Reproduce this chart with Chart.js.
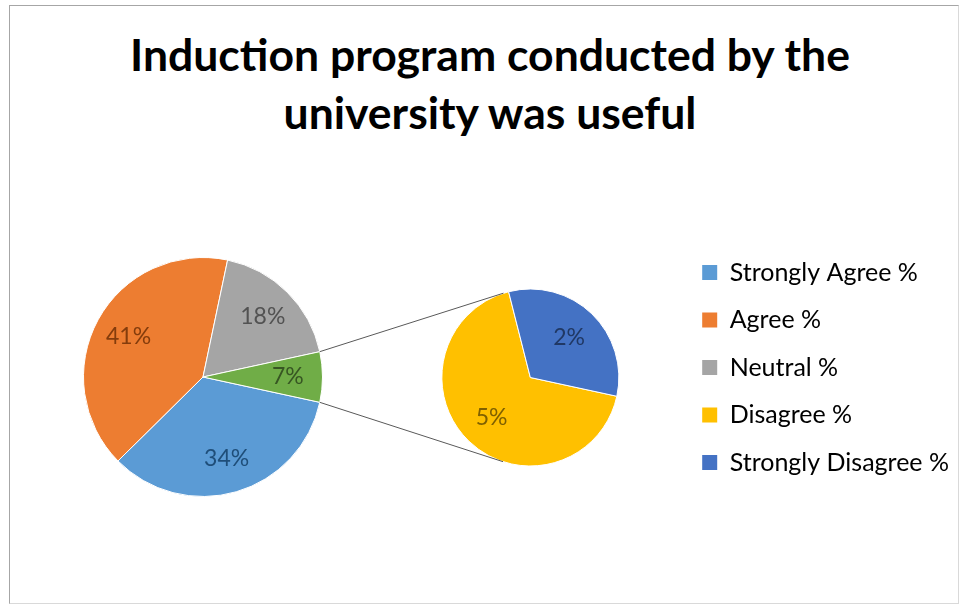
<!DOCTYPE html>
<html>
<head>
<meta charset="utf-8">
<script src="https://cdn.jsdelivr.net/npm/chart.js@4"></script>
<style>
  body { margin: 0; background: #fff; }
  #wrap { position: relative; width: 959px; height: 605px; overflow: hidden; }
  #frame { position: absolute; left: 9px; top: 5px; width: 948px; height: 597px;
           border: 1px solid #d9d9d9; border-top-color: #a6a6a6; border-left-color: #a6a6a6; }
  #title { position: absolute; left: 21px; width: 938px; top: 25px; text-align: center;
           font: bold 44.5px/58px Lato, sans-serif; color: #000; }
  canvas { position: absolute; left: 0; top: 0; }
</style>
</head>
<body>
<div id="wrap">
  <div id="frame"></div>
  <div id="title">Induction program conducted by the<br>university was useful</div>
  <canvas id="mainPie" width="959" height="605"></canvas>
  <canvas id="subPie" width="959" height="605"></canvas>
</div>
<script>
  const categories = ['Strongly Agree %', 'Agree %', 'Neutral %', 'Disagree %', 'Strongly Disagree %']
  const values = [34.2, 40.7, 18.3, 4.6, 2.2]
  const mainCount = 3   // the rest goes into the second pie

  const colors = ['#5B9BD5', '#ED7D31', '#A5A5A5', '#FFC000', '#4472C4']
  const labelColors = ['#1F4E79', '#843C0C', '#525252', '#7F6000', '#203864']
  const otherColor = '#70AD47'
  const otherLabelColor = '#375623'

  const otherValue = values.slice(mainCount).reduce((a, b) => a + b, 0)
  // "other" slice sits centred on 3 o'clock, like Excel's pie of pie
  const rotation = 90 + otherValue * 3.6 / 2

  // percentage labels inside the slices
  const sliceLabels = {
    id: 'sliceLabels',
    afterDatasetsDraw(chart, args, opts) {
      const ctx = chart.ctx
      const data = chart.data.datasets[0].data
      chart.getDatasetMeta(0).data.forEach((arc, i) => {
        const p = arc.getProps(['x', 'y', 'startAngle', 'endAngle', 'outerRadius'], true)
        const mid = (p.startAngle + p.endAngle) / 2
        const r = p.outerRadius * opts.at
        ctx.save()
        ctx.font = '23px Lato'
        ctx.fillStyle = opts.colors[i]
        ctx.textAlign = 'center'
        ctx.textBaseline = 'middle'
        ctx.fillText(Math.round(data[i]) + '%', p.x + Math.cos(mid) * r, p.y + Math.sin(mid) * r)
        ctx.restore()
      })
    }
  }

  // lines from the "other" slice to the second pie
  const connectors = {
    id: 'connectors',
    afterDatasetsDraw(chart) {
      const o = mainChart.getDatasetMeta(0).data[mainCount]
        .getProps(['x', 'y', 'startAngle', 'endAngle', 'outerRadius'], true)
      const s = chart.getDatasetMeta(0).data[0].getProps(['x', 'y', 'outerRadius'], true)
      const ctx = chart.ctx
      ctx.save()
      ctx.strokeStyle = '#595959'
      ctx.lineWidth = 1
      ;[[o.startAngle, 1], [o.endAngle, -1]].forEach(([a, side]) => {
        const px = o.x + Math.cos(a) * o.outerRadius
        const py = o.y + Math.sin(a) * o.outerRadius
        const dx = px - s.x, dy = py - s.y
        const t = Math.atan2(dy, dx) + side * Math.acos(s.outerRadius / Math.hypot(dx, dy))
        ctx.beginPath()
        ctx.moveTo(px, py)
        ctx.lineTo(s.x + Math.cos(t) * s.outerRadius, s.y + Math.sin(t) * s.outerRadius)
        ctx.stroke()
      })
      ctx.restore()
    }
  }

  const mainChart = new Chart(document.getElementById('mainPie'), {
    type: 'pie',
    data: {
      labels: categories.slice(0, mainCount).concat(['Other']),
      datasets: [{
        data: values.slice(0, mainCount).concat([otherValue]),
        backgroundColor: colors.slice(0, mainCount).concat([otherColor]),
        borderColor: '#fff',
        borderWidth: 1
      }]
    },
    options: {
      responsive: false,
      animation: false,
      events: [],
      rotation: rotation,
      radius: 119.5,
      layout: { padding: { left: 83, top: 257, right: 636, bottom: 108 } },
      plugins: {
        legend: { display: false },
        tooltip: { enabled: false },
        sliceLabels: { at: 0.71, colors: labelColors.slice(0, mainCount).concat([otherLabelColor]) }
      }
    },
    plugins: [sliceLabels]
  })

  const subChart = new Chart(document.getElementById('subPie'), {
    type: 'pie',
    data: {
      labels: categories.slice(mainCount),
      datasets: [{
        data: values.slice(mainCount),
        backgroundColor: colors.slice(mainCount),
        borderColor: '#fff',
        borderWidth: 1
      }]
    },
    options: {
      responsive: false,
      animation: false,
      events: [],
      rotation: rotation,
      radius: 88.5,
      layout: { padding: { left: 381, top: 237.5, right: 0, bottom: 87.5 } },
      plugins: {
        tooltip: { enabled: false },
        legend: {
          position: 'right',
          align: 'start',
          labels: {
            boxWidth: 15,
            boxHeight: 15,
            padding: 22.5,
            color: '#595959',
            font: { family: 'Lato', size: 25 },
            generateLabels: () => categories.map((c, i) => ({
              text: c, fillStyle: colors[i], strokeStyle: colors[i], lineWidth: 0, hidden: false, index: i
            }))
          }
        },
        sliceLabels: { at: 0.63, colors: labelColors.slice(mainCount) }
      }
    },
    plugins: [sliceLabels, connectors]
  })
</script>
</body>
</html>
